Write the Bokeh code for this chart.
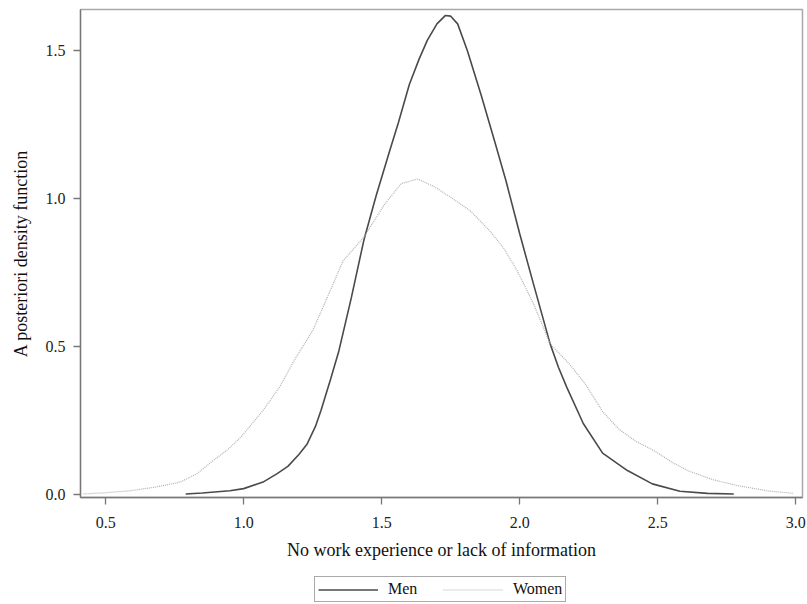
from bokeh.plotting import figure
from bokeh.models import Range1d, FixedTicker, Legend, LegendItem
from bokeh.layouts import column
from bokeh.embed import file_html
from bokeh.resources import INLINE

# ---- data ----
men_x = [0.79, 0.85, 0.95, 1.00, 1.07, 1.12, 1.16, 1.20, 1.23, 1.26, 1.28, 1.315,
         1.345, 1.39, 1.435, 1.48, 1.53, 1.56, 1.60, 1.635, 1.665, 1.70, 1.73,
         1.75, 1.775, 1.81, 1.86, 1.91, 1.95, 2.00, 2.05, 2.11, 2.14, 2.17, 2.23,
         2.30, 2.39, 2.48, 2.58, 2.68, 2.775]
men_y = [0.002, 0.005, 0.013, 0.020, 0.042, 0.070, 0.095, 0.135, 0.171, 0.230,
         0.284, 0.390, 0.486, 0.665, 0.858, 1.010, 1.165, 1.255, 1.385, 1.470,
         1.534, 1.590, 1.618, 1.616, 1.590, 1.500, 1.350, 1.190, 1.060, 0.880,
         0.710, 0.509, 0.430, 0.363, 0.240, 0.140, 0.081, 0.036, 0.011, 0.004,
         0.002]

women_x = [0.42, 0.50, 0.59, 0.68, 0.77, 0.83, 0.89, 0.94, 0.99, 1.07, 1.13, 1.19,
           1.25, 1.305, 1.36, 1.435, 1.51, 1.57, 1.63, 1.69, 1.75, 1.82, 1.89,
           1.94, 1.99, 2.05, 2.11, 2.18, 2.24, 2.30, 2.36, 2.42, 2.485, 2.55,
           2.61, 2.70, 2.79, 2.90, 2.99]
women_y = [0.002, 0.006, 0.013, 0.025, 0.042, 0.070, 0.115, 0.150, 0.194, 0.284,
           0.363, 0.464, 0.554, 0.670, 0.790, 0.869, 0.980, 1.050, 1.066, 1.040,
           1.004, 0.959, 0.892, 0.835, 0.757, 0.644, 0.509, 0.441, 0.370, 0.280,
           0.220, 0.180, 0.149, 0.110, 0.080, 0.050, 0.030, 0.012, 0.004]

x_ticks = [0.5, 1.0, 1.5, 2.0, 2.5, 3.0]
y_ticks = [0.0, 0.5, 1.0, 1.5]
series_labels = ["Men", "Women"]

FONT = "Liberation Serif"
MEN_STYLE = dict(line_color="#4a4a4a", line_width=1.6)
WOMEN_STYLE = dict(line_color="#b0b0b0", line_width=1.2, line_dash="1 1")

p = figure(width=806, height=572, output_backend="svg", toolbar_location=None,
           x_range=Range1d(0.409, 3.024), y_range=Range1d(-0.010, 1.6385),
           min_border_left=80, min_border_right=4, min_border_top=9,
           min_border_bottom=75)

p.xgrid.visible = False
p.ygrid.visible = False
p.background_fill_color = "white"
p.border_fill_color = "white"
p.outline_line_color = "#a8a8a8"
p.outline_line_width = 1.5

p.line(men_x, men_y, **MEN_STYLE)
p.line(women_x, women_y, **WOMEN_STYLE)

for ax in (p.xaxis[0], p.yaxis[0]):
    ax.axis_line_color = "#777777"
    ax.axis_line_width = 1.3
    ax.major_tick_line_color = "#777777"
    ax.major_tick_line_width = 1.3
    ax.major_tick_out = 7
    ax.major_tick_in = 0
    ax.minor_tick_line_color = None
    ax.major_label_text_font = FONT
    ax.major_label_text_font_size = "16px"
    ax.major_label_text_color = "#222222"
    ax.axis_label_text_font = FONT
    ax.axis_label_text_font_size = "18px"
    ax.axis_label_text_font_style = "normal"
    ax.axis_label_text_color = "#111111"

p.xaxis.ticker = FixedTicker(ticks=x_ticks)
p.yaxis.ticker = FixedTicker(ticks=y_ticks)
p.xaxis.major_label_overrides = {t: f"{t:.1f}" for t in x_ticks}
p.yaxis.major_label_overrides = {t: f"{t:.1f}" for t in y_ticks}
p.xaxis.axis_label = "No work experience or lack of information"
p.yaxis.axis_label = "A posteriori density function"
p.xaxis.major_label_standoff = 12
p.yaxis.major_label_standoff = 8
p.xaxis.axis_label_standoff = 9
p.yaxis.axis_label_standoff = 12

# ---- legend strip below the chart (same series, kept out of view) ----
lg = figure(width=806, height=31, output_backend="svg", toolbar_location=None,
            x_range=Range1d(100, 101), y_range=Range1d(100, 101),
            x_axis_location=None, y_axis_location=None, min_border=0)
lg.xgrid.visible = False
lg.ygrid.visible = False
lg.outline_line_color = None
lg.background_fill_color = "white"
lg.border_fill_color = "white"
r_men = lg.line(men_x, men_y, **MEN_STYLE)
r_women = lg.line(women_x, women_y, **WOMEN_STYLE)

legend = Legend(items=[LegendItem(label=series_labels[0], renderers=[r_men]),
                       LegendItem(label=series_labels[1], renderers=[r_women])],
                orientation="horizontal", location=(234, 1))
legend.label_text_font = FONT
legend.label_text_font_size = "16px"
legend.label_text_color = "#111111"
legend.label_height = 13
legend.label_width = 40
legend.glyph_width = 60
legend.glyph_height = 13
legend.label_standoff = 10
legend.spacing = 15
legend.padding = 3
legend.margin = 0
legend.border_line_color = "#555555"
legend.border_line_width = 1.5
legend.background_fill_alpha = 1.0
lg.add_layout(legend, "center")

open("out.html", "w").write(file_html(column(p, lg, spacing=0), INLINE))
